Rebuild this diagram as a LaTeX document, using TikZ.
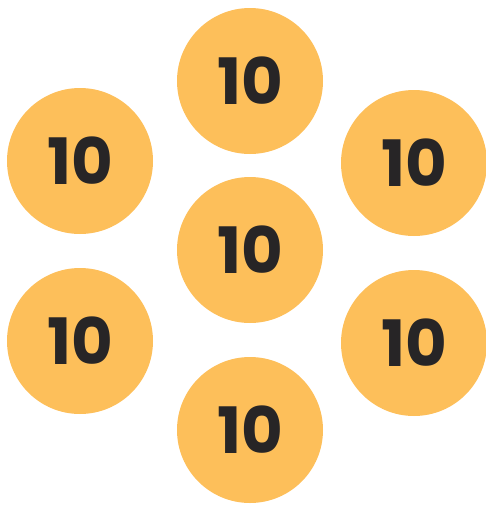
\documentclass[tikz,border=0pt]{standalone}
\usepackage{fontspec}
\setmainfont{Poppins}
\usepackage{tikz}
\definecolor{coinfill}{HTML}{FDBF5A}
\definecolor{coinink}{HTML}{272526}
\tikzset{
  coin/.style={circle, fill=coinfill, minimum size=146pt, inner sep=0pt,
    text=coinink, font=\fontsize{64}{64}\selectfont\bfseries},
}

\begin{document}
\begin{tikzpicture}[x=1pt, y=-1pt]
  \useasboundingbox (0,0) rectangle (486,507);
  \node[coin] (top) at (250,81) {10};
  \node[coin] (upleft) at (80,161) {10};
  \node[coin] (upright) at (414,163) {10};
  \node[coin] (mid) at (250,250) {10};
  \node[coin] (lowleft) at (80,341) {10};
  \node[coin] (lowright) at (414,343) {10};
  \node[coin] (bottom) at (250,430) {10};
\end{tikzpicture}
\end{document}
